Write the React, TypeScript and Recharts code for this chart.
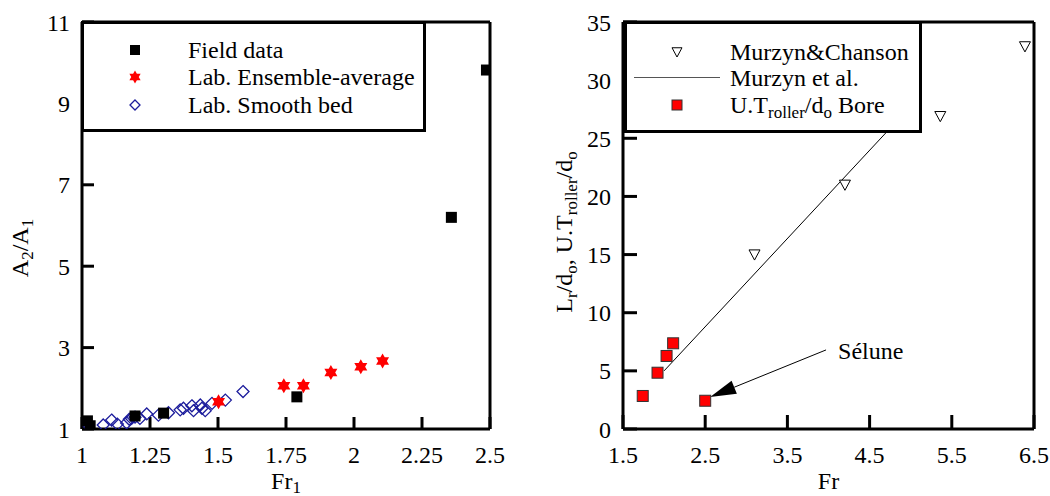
import React from 'react';
import { ScatterChart, Scatter, XAxis, YAxis, ReferenceLine } from 'recharts';

const FONT = '"Liberation Serif", "DejaVu Serif", Tinos, "Times New Roman", serif';
const FS = 24;
const SUB = 17;

// left panel: A2/A1 vs Fr1
const frTicksL = [1, 1.25, 1.5, 1.75, 2, 2.25, 2.5];
const ratioTicks = [1, 3, 5, 7, 9, 11];

const fieldFr = [1.02, 1.03, 1.195, 1.3, 1.79, 2.358, 2.487];
const fieldRatio = [1.2, 1.08, 1.32, 1.39, 1.79, 6.2, 9.82];

const ensembleFr = [1.502, 1.742, 1.814, 1.915, 2.025, 2.105];
const ensembleRatio = [1.67, 2.06, 2.06, 2.39, 2.53, 2.67];

const smoothFr = [1.016, 1.078, 1.109, 1.13, 1.164, 1.174, 1.182, 1.195, 1.213, 1.238, 1.281, 1.318, 1.361, 1.373, 1.404, 1.41, 1.435, 1.441, 1.453, 1.478, 1.527, 1.592];
const smoothRatio = [1.14, 1.1, 1.22, 1.12, 1.15, 1.24, 1.26, 1.29, 1.26, 1.37, 1.34, 1.4, 1.47, 1.51, 1.57, 1.45, 1.59, 1.51, 1.45, 1.63, 1.71, 1.92];

// right panel: Lr/do vs Fr
const frTicksR = [1.5, 2.5, 3.5, 4.5, 5.5, 6.5];
const lengthTicks = [0, 5, 10, 15, 20, 25, 30, 35];

const chansonFr = [3.1, 4.2, 5.36, 6.39];
const chansonLr = [15, 21, 26.9, 32.9];

const murzynFr = [2.0, 4.9];
const murzynLr = [5.0, 27.0];

const boreFr = [1.74, 1.92, 2.03, 2.11, 2.5];
const boreRoller = [2.84, 4.84, 6.28, 7.37, 2.43];

const seluneFr = [3.97, 2.56];
const seluneVal = [6.8, 2.75];

const pts = (xs: number[], ys: number[]) => xs.map((x, i) => ({ x, y: ys[i] }));

const NAVY = '#1c1c9c';
const RED = '#ff0000';

/* marker shapes */
const blackSquare = (p: any, s = 11) => (
  <rect x={p.cx - s / 2} y={p.cy - s / 2} width={s} height={s} fill="#000" />
);

const starPoints = (cx: number, cy: number, r: number) => {
  const out: string[] = [];
  for (let i = 0; i < 12; i++) {
    const rr = i % 2 === 0 ? r : r / Math.sqrt(3);
    const a = (Math.PI / 6) * i - Math.PI / 2;
    out.push(`${cx + rr * Math.cos(a)},${cy + rr * Math.sin(a)}`);
  }
  return out.join(' ');
};
const redStar = (p: any, r = 7.5) => <polygon points={starPoints(p.cx, p.cy, r)} fill={RED} />;

const diamond = (p: any, r = 6) => (
  <polygon
    points={`${p.cx},${p.cy - r} ${p.cx + r},${p.cy} ${p.cx},${p.cy + r} ${p.cx - r},${p.cy}`}
    fill="none"
    stroke={NAVY}
    strokeWidth={1.3}
  />
);

const triDown = (p: any, r = 5.5) => (
  <polygon
    points={`${p.cx - r},${p.cy - r * 0.85} ${p.cx + r},${p.cy - r * 0.85} ${p.cx},${p.cy + r}`}
    fill="#fff"
    stroke="#000"
    strokeWidth={1}
  />
);

const redSquare = (p: any, s = 11) => (
  <rect x={p.cx - s / 2} y={p.cy - s / 2} width={s} height={s} fill={RED} stroke="#333" strokeWidth={1} />
);

const noMarker = () => <g />;

const tickStyle = { fill: '#000', fontSize: FS, fontFamily: FONT };
const frame = { stroke: '#000', strokeWidth: 3 };
const blank = () => '';

const seluneArrow = (p: any) => {
  const { x1, y1, x2, y2 } = p;
  const dx = x2 - x1;
  const dy = y2 - y1;
  const len = Math.sqrt(dx * dx + dy * dy);
  const ux = dx / len;
  const uy = dy / len;
  const hl = 26;
  const hw = 7;
  const bx = x2 - ux * hl;
  const by = y2 - uy * hl;
  return (
    <g>
      <line x1={x1} y1={y1} x2={bx} y2={by} stroke="#000" strokeWidth={1} />
      <polygon
        points={`${x2},${y2} ${bx - uy * hw},${by + ux * hw} ${bx + uy * hw},${by - ux * hw}`}
        fill="#000"
      />
      <text x={x1 + 12} y={y1 + 9} fontFamily={FONT} fontSize={FS} fill="#000">
        Sélune
      </text>
    </g>
  );
};

function LegendRow({ top, left, textLeft, icon, children }: any) {
  return (
    <>
      <div style={{ position: 'absolute', left: left - 8, top: top - 8, width: 16, height: 16 }}>
        <svg width={16} height={16}>{icon}</svg>
      </div>
      <div
        style={{
          position: 'absolute',
          left: textLeft,
          top: top - 14,
          height: 28,
          lineHeight: '28px',
          fontSize: FS,
          fontFamily: FONT,
          whiteSpace: 'nowrap',
          color: '#000',
        }}
      >
        {children}
      </div>
    </>
  );
}

const subStyle: React.CSSProperties = { fontSize: SUB, verticalAlign: '-5px', lineHeight: 0 };

export default function App() {
  return (
    <div style={{ position: 'absolute', left: 0, top: 0, width: 1050, height: 496, background: '#fff', fontFamily: FONT }}>
      {/* left panel */}
      <div style={{ position: 'absolute', left: 0, top: 0 }}>
        <ScatterChart width={520} height={496} margin={{ top: 21, right: 29, bottom: 27, left: 0 }}>
          <XAxis
            xAxisId="b"
            type="number"
            dataKey="x"
            domain={[1, 2.5]}
            ticks={frTicksL}
            allowDataOverflow
            height={40}
            stroke="#000"
            axisLine={frame}
            tickLine={frame}
            tickSize={-12}
            tickMargin={29}
            tick={tickStyle}
            label={(lp: any) => {
              const vb = lp.viewBox || { x: 82, width: 408 };
              return (
                <text x={vb.x + vb.width / 2} y={489} textAnchor="middle" fontFamily={FONT} fontSize={FS} fill="#000">
                  Fr<tspan fontSize={SUB} dy={4}>1</tspan>
                </text>
              );
            }}
          />
          <XAxis
            xAxisId="t"
            orientation="top"
            type="number"
            domain={[1, 2.5]}
            ticks={frTicksL}
            height={1}
            stroke="#000"
            axisLine={frame}
            tickLine={frame}
            tickSize={-12}
            tickFormatter={blank}
          />
          <YAxis
            yAxisId="l"
            type="number"
            dataKey="y"
            domain={[1, 11]}
            ticks={ratioTicks}
            allowDataOverflow
            width={82}
            stroke="#000"
            axisLine={frame}
            tickLine={frame}
            tickSize={-12}
            tickMargin={24}
            tick={tickStyle}
            label={() => (
              <text
                x={28}
                y={248}
                transform="rotate(-90, 28, 248)"
                textAnchor="middle"
                fontFamily={FONT}
                fontSize={FS}
                fill="#000"
              >
                A<tspan fontSize={SUB} dy={5}>2</tspan>
                <tspan dy={-5}>/A</tspan>
                <tspan fontSize={SUB} dy={5}>1</tspan>
              </text>
            )}
          />
          <YAxis
            yAxisId="r"
            orientation="right"
            type="number"
            domain={[1, 11]}
            ticks={ratioTicks}
            width={1}
            stroke="#000"
            axisLine={frame}
            tickLine={frame}
            tickSize={-12}
            tickFormatter={blank}
          />
          <Scatter xAxisId="b" yAxisId="l" data={pts(smoothFr, smoothRatio)} shape={(p: any) => diamond(p)} isAnimationActive={false} />
          <Scatter xAxisId="b" yAxisId="l" data={pts(fieldFr, fieldRatio)} shape={(p: any) => blackSquare(p)} isAnimationActive={false} />
          <Scatter xAxisId="b" yAxisId="l" data={pts(ensembleFr, ensembleRatio)} shape={(p: any) => redStar(p)} isAnimationActive={false} />
        </ScatterChart>
      </div>

      {/* right panel */}
      <div style={{ position: 'absolute', left: 520, top: 0 }}>
        <ScatterChart width={530} height={496} margin={{ top: 21, right: 15, bottom: 27, left: 0 }}>
          <XAxis
            xAxisId="b"
            type="number"
            dataKey="x"
            domain={[1.5, 6.5]}
            ticks={frTicksR}
            allowDataOverflow
            height={40}
            stroke="#000"
            axisLine={frame}
            tickLine={frame}
            tickSize={-14}
            tickMargin={31}
            tick={tickStyle}
            label={(lp: any) => {
              const vb = lp.viewBox || { x: 103, width: 411 };
              return (
                <text x={vb.x + vb.width / 2} y={489} textAnchor="middle" fontFamily={FONT} fontSize={FS} fill="#000">
                  Fr
                </text>
              );
            }}
          />
          <XAxis
            xAxisId="t"
            orientation="top"
            type="number"
            domain={[1.5, 6.5]}
            ticks={frTicksR}
            height={1}
            stroke="#000"
            axisLine={frame}
            tickLine={frame}
            tickSize={-14}
            tickFormatter={blank}
          />
          <YAxis
            yAxisId="l"
            type="number"
            dataKey="y"
            domain={[0, 35]}
            ticks={lengthTicks}
            allowDataOverflow
            width={103}
            stroke="#000"
            axisLine={frame}
            tickLine={frame}
            tickSize={-14}
            tickMargin={26}
            tick={tickStyle}
            label={() => (
              <text
                x={52}
                y={232}
                transform="rotate(-90, 52, 232)"
                textAnchor="middle"
                fontFamily={FONT}
                fontSize={FS}
                fill="#000"
              >
                L<tspan fontSize={SUB} dy={5}>r</tspan>
                <tspan dy={-5}>/d</tspan>
                <tspan fontSize={SUB} dy={5}>o</tspan>
                <tspan dy={-5}>, U.T</tspan>
                <tspan fontSize={SUB} dy={5}>roller</tspan>
                <tspan dy={-5}>/d</tspan>
                <tspan fontSize={SUB} dy={5}>o</tspan>
              </text>
            )}
          />
          <YAxis
            yAxisId="r"
            orientation="right"
            type="number"
            domain={[0, 35]}
            ticks={lengthTicks}
            width={1}
            stroke="#000"
            axisLine={frame}
            tickLine={frame}
            tickSize={-14}
            tickFormatter={blank}
          />
          <Scatter
            xAxisId="b"
            yAxisId="l"
            data={pts(murzynFr, murzynLr)}
            line={{ stroke: '#000', strokeWidth: 1 }}
            shape={noMarker}
            isAnimationActive={false}
          />
          <Scatter xAxisId="b" yAxisId="l" data={pts(chansonFr, chansonLr)} shape={(p: any) => triDown(p)} isAnimationActive={false} />
          <Scatter xAxisId="b" yAxisId="l" data={pts(boreFr, boreRoller)} shape={(p: any) => redSquare(p)} isAnimationActive={false} />
          <ReferenceLine
            xAxisId="b"
            yAxisId="l"
            segment={pts(seluneFr, seluneVal)}
            ifOverflow="visible"
            shape={seluneArrow}
          />
        </ScatterChart>
      </div>

      {/* left legend */}
      <div
        style={{
          position: 'absolute',
          left: 81,
          top: 21,
          width: 345,
          height: 111,
          border: '3px solid #000',
          boxSizing: 'border-box',
          background: '#fff',
        }}
      />
      <LegendRow top={50} left={135} textLeft={188} icon={blackSquare({ cx: 8, cy: 8 }, 10)}>
        Field data
      </LegendRow>
      <LegendRow top={77} left={135} textLeft={188} icon={redStar({ cx: 8, cy: 8 }, 6.5)}>
        Lab. Ensemble-average
      </LegendRow>
      <LegendRow top={105} left={135} textLeft={188} icon={diamond({ cx: 8, cy: 8 }, 5)}>
        Lab. Smooth bed
      </LegendRow>

      {/* right legend */}
      <div
        style={{
          position: 'absolute',
          left: 624,
          top: 21,
          width: 298,
          height: 112,
          border: '3px solid #000',
          boxSizing: 'border-box',
          background: '#fff',
        }}
      />
      <LegendRow top={52} left={677} textLeft={730} icon={triDown({ cx: 8, cy: 8 }, 5)}>
        Murzyn&amp;Chanson
      </LegendRow>
      <div style={{ position: 'absolute', left: 634, top: 77, width: 86, height: 1, background: '#555' }} />
      <LegendRow top={78} left={677} textLeft={730} icon={null}>
        Murzyn et al.
      </LegendRow>
      <LegendRow top={105} left={677} textLeft={730} icon={redSquare({ cx: 8, cy: 8 }, 10)}>
        U.T<span style={subStyle}>roller</span>/d<span style={subStyle}>o</span> Bore
      </LegendRow>
    </div>
  );
}
